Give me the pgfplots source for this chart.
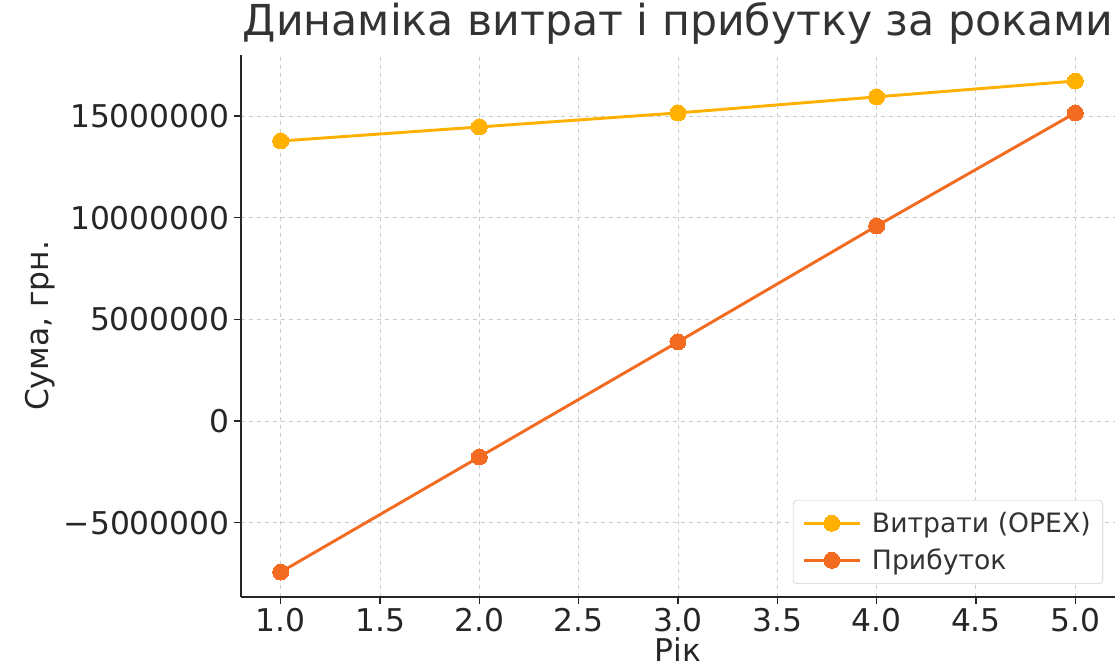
\documentclass[border=0pt]{standalone}
\usepackage{fontspec}
\setmainfont{DejaVu Sans}
\usepackage{pgfplots}
\pgfplotsset{compat=1.18}

\definecolor{opex}{HTML}{FFB000}
\definecolor{profit}{HTML}{F26B21}
\definecolor{spine}{HTML}{262626}
\definecolor{txt}{HTML}{333333}

\begin{document}
\begin{tikzpicture}
% page = 1118x670 px at 0.75pt per px, axis box corner at (241,597)
\useasboundingbox (-180.75pt,-54.75pt) rectangle (657.75pt,447.75pt);
\begin{axis}[
    scale only axis,
    width=655.5pt, height=406.5pt,
    xmin=0.8, xmax=5.2,
    ymin=-8657000, ymax=18000000,
    scaled y ticks=false,
    axis lines=left,
    axis line style={-, spine, line width=1.4pt},
    tick align=outside,
    major tick length=5pt,
    tick style={spine, line width=1.1pt},
    xtick={1,1.5,2,2.5,3,3.5,4,4.5,5},
    xticklabels={1.0,1.5,2.0,2.5,3.0,3.5,4.0,4.5,5.0},
    ytick={-5000000,0,5000000,10000000,15000000},
    yticklabels={−5000000,0,5000000,10000000,15000000},
    ticklabel style={font=\fontsize{23.5}{27}\selectfont, text=spine},
    grid=major,
    grid style={dashed, gray!40, line width=0.7pt},
    title={Динаміка витрат і прибутку за роками},
    title style={font=\fontsize{32}{36}\selectfont, text=txt,
        at={(0.5,1.0203)}, anchor=base},
    xlabel={Рік},
    xlabel style={font=\fontsize{23.5}{27}\selectfont, text=spine,
        at={(0.5,-0.119)}, anchor=base, inner sep=0pt},
    ylabel={Сума, грн.},
    ylabel style={font=\fontsize{23.5}{27}\selectfont, text=spine,
        at={(-0.2208,0.5)}, anchor=base, rotate=0},
    legend style={at={(0.9863,0.024)}, anchor=south east,
        draw=gray!40, rounded corners=3pt, fill=white,
        text=txt,
        font=\fontsize{20}{23}\selectfont,
        inner xsep=7pt, inner ysep=7pt, row sep=7pt, column sep=6pt},
    legend cell align=left,
    legend image code/.code={%
        \draw[mark repeat=2, mark phase=2, #1]
        plot coordinates {(0pt,0pt) (21pt,0pt) (42pt,0pt)};},
]
\addplot[opex, line width=2.2pt, mark=*, mark size=6pt,
    mark options={fill=opex, draw=opex, line width=0pt}]
    coordinates {(1,13770000) (2,14460000) (3,15150000) (4,15940000) (5,16720000)};
\addlegendentry{Витрати (OPEX)}
\addplot[profit, line width=2.2pt, mark=*, mark size=6pt,
    mark options={fill=profit, draw=profit, line width=0pt}]
    coordinates {(1,-7430000) (2,-1770000) (3,3890000) (4,9590000) (5,15150000)};
\addlegendentry{Прибуток}
\end{axis}
\end{tikzpicture}
\end{document}
